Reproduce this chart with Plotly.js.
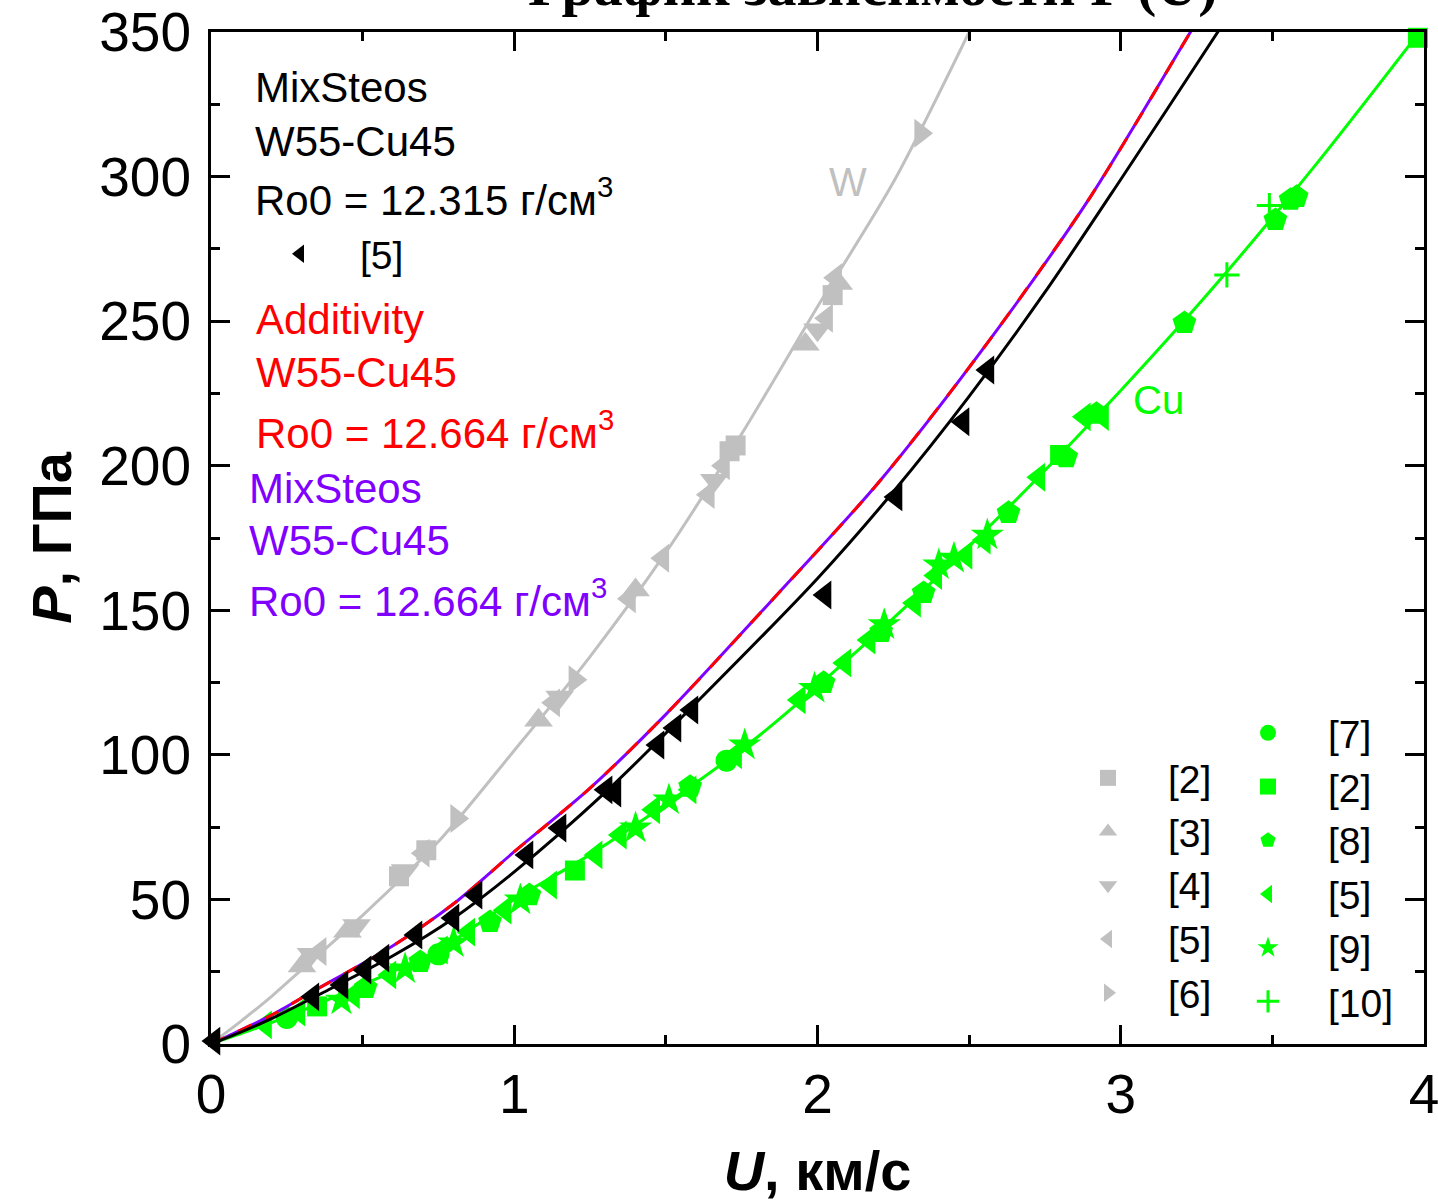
<!DOCTYPE html>
<html><head><meta charset="utf-8">
<script src="https://cdn.plot.ly/plotly-3.0.1.min.js"></script>
<style>body{margin:0;background:#fff}</style>
</head><body><div id="chart" style="width:1438px;height:1202px"></div>
<script>
// ---- Curves ----
const W_curve_U = [0, 0.1, 0.2, 0.3, 0.5, 0.75, 1.0, 1.25, 1.5, 1.75, 2.0, 2.25, 2.5];
const W_curve_P = [0, 8, 16.5, 25.8, 44.5, 70, 101.5, 134, 170, 211, 255, 298, 350];

const Cu_curve_U = [0, 0.15, 0.3, 0.5, 0.75, 1.0, 1.25, 1.5, 1.8, 2.1, 2.4, 2.7, 3.0, 3.3, 3.65, 4.0];
const Cu_curve_P = [0, 5.5, 11.5, 20.5, 32.5, 50, 65.5, 83, 106, 133, 162, 193, 226, 261, 305, 352];

const Mix12315_U = [0, 0.1, 0.2, 0.37, 0.6, 0.8, 1.0, 1.3, 1.6, 2.0, 2.25, 2.5, 2.75, 3.0, 3.32, 3.4];
const Mix12315_P = [0, 4.2, 8.8, 17.8, 30.5, 43.5, 59.5, 87, 118, 161, 191, 224, 260, 299, 350, 363];

const Add12664_U = [0, 0.1, 0.2, 0.33, 0.6, 0.8, 1.0, 1.25, 1.5, 1.85, 2.2, 2.55, 2.9, 3.23, 3.3];
const Add12664_P = [0, 4.9, 10, 17.8, 34, 48.5, 66.5, 88.5, 114, 153.5, 194, 241, 293, 350, 362];

const Mix12664_U = [0, 0.1, 0.2, 0.33, 0.6, 0.8, 1.0, 1.25, 1.5, 1.85, 2.2, 2.55, 2.9, 3.23, 3.3];
const Mix12664_P = [0, 4.9, 10, 17.8, 34, 48.5, 66.5, 88.5, 114, 153.5, 194, 241, 293, 350, 362];

// ---- Experimental points: W (gray) ----
const W2_U = [0.62, 0.71, 1.71, 1.73, 2.05];
const W2_P = [58, 67, 205, 207, 259];
const W3_U = [0.30, 0.45, 1.08, 1.40, 1.96, 2.07];
const W3_P = [27, 39, 112, 157, 242, 263];
const W4_U = [0.33, 0.48, 0.64, 1.15, 1.66, 2.00];
const W4_P = [31, 41, 60, 120, 195, 247];
const W5_U = [0.36, 0.70, 1.13, 1.38, 1.49, 1.64, 1.69, 2.03, 2.06];
const W5_P = [32, 66, 118, 154, 168, 190, 200, 251, 265];
const W6_U = [0.81, 1.20, 2.34];
const W6_P = [78, 126, 315];

// ---- Experimental points: Cu (green) ----
const Cu7_U = [0.25, 0.75, 1.70];
const Cu7_P = [9, 31, 98];
const Cu2_U = [0.35, 1.20, 2.80, 3.98];
const Cu2_P = [13, 60, 203.7, 348];
const Cu8_U = [0.51, 0.69, 0.92, 1.05, 1.58, 2.02, 2.21, 2.35, 2.63, 2.82, 2.92, 3.21, 3.51, 3.56, 3.58];
const Cu8_P = [19.4, 28.4, 42.2, 51.5, 89, 124.9, 142.5, 156, 183.7, 203, 218, 249.4, 285, 292, 293];
const Cu5_U = [0.18, 0.29, 0.47, 0.59, 0.76, 0.85, 0.97, 1.12, 1.27, 1.35, 1.46, 1.58, 1.73, 1.94, 2.09, 2.17, 2.32, 2.39, 2.49, 2.55, 2.73, 2.88, 2.94];
const Cu5_P = [6.6, 11, 17, 23.9, 32.5, 38.7, 46.3, 55, 65.4, 72.3, 81, 87.9, 100, 119, 131.8, 139.7, 152.5, 162, 169, 174.3, 196, 216.9, 217];
const Cu9_U = [0.43, 0.64, 0.80, 1.02, 1.40, 1.51, 1.76, 1.99, 2.22, 2.40, 2.45, 2.56];
const Cu9_P = [15.2, 26, 35, 49.8, 74.7, 84.4, 103.4, 123, 145, 165.7, 168, 176];
const Cu10_U = [3.35, 3.49];
const Cu10_P = [266, 290];

// ---- Experimental points: W55-Cu45 (black) ----
const Mix5_U = [0.01, 0.336, 0.432, 0.508, 0.567, 0.676, 0.798, 0.874, 1.042, 1.151, 1.303, 1.332, 1.474, 1.530, 1.586, 2.025, 2.259, 2.480, 2.562];
const Mix5_P = [1, 16.3, 20.4, 25.6, 29.7, 37.7, 43.6, 51.5, 65.4, 74.7, 87.9, 86.8, 103.4, 109.3, 115.5, 155.3, 189.2, 215.2, 233.1];

// ---- Labels ----
const legendLabelsW = ['[2]', '[3]', '[4]', '[5]', '[6]'];
const legendLabelsCu = ['[7]', '[2]', '[8]', '[5]', '[9]', '[10]'];
const mixLabel = '[5]';

const GRAY = '#c0c0c0', GREEN = '#00ff00', RED = '#ff0000', PURPLE = '#8000ff', BLACK = '#000000';
const MS = 25;

function curve(x, y, color, dash) {
  return {x: x, y: y, type: 'scatter', mode: 'lines', showlegend: false, hoverinfo: 'skip',
    line: {color: color, width: 3, shape: 'spline', smoothing: 0.8, dash: dash || 'solid'}};
}
function pts(x, y, color, symbol, name, legend, extra) {
  const m = {color: color, size: MS, symbol: symbol, line: {width: 0}};
  if (extra) Object.assign(m, extra);
  return {x: x, y: y, type: 'scatter', mode: 'markers', name: name, legend: legend,
    cliponaxis: false, marker: m};
}

const traces = [
  curve(W_curve_U, W_curve_P, GRAY),
  pts(W2_U, W2_P, GRAY, 'square', legendLabelsW[0], 'legend', {size: 20}),
  pts(W3_U, W3_P, GRAY, 'triangle-up', legendLabelsW[1], 'legend'),
  pts(W4_U, W4_P, GRAY, 'triangle-down', legendLabelsW[2], 'legend'),
  pts(W5_U, W5_P, GRAY, 'triangle-left', legendLabelsW[3], 'legend'),
  pts(W6_U, W6_P, GRAY, 'triangle-right', legendLabelsW[4], 'legend'),
  curve(Cu_curve_U, Cu_curve_P, GREEN),
  pts(Cu7_U, Cu7_P, GREEN, 'circle', legendLabelsCu[0], 'legend2', {size: 22}),
  pts(Cu2_U, Cu2_P, GREEN, 'square', legendLabelsCu[1], 'legend2', {size: 20}),
  pts(Cu8_U, Cu8_P, GREEN, 'pentagon', legendLabelsCu[2], 'legend2'),
  pts(Cu5_U, Cu5_P, GREEN, 'triangle-left', legendLabelsCu[3], 'legend2'),
  pts(Cu9_U, Cu9_P, GREEN, 'star', legendLabelsCu[4], 'legend2'),
  pts(Cu10_U, Cu10_P, GREEN, 'cross-thin-open', legendLabelsCu[5], 'legend2', {size: 18, line: {width: 3, color: GREEN}}),
  curve(Mix12664_U, Mix12664_P, PURPLE),
  curve(Add12664_U, Add12664_P, RED, '15px,15px'),
  curve(Mix12315_U, Mix12315_P, BLACK),
  pts(Mix5_U, Mix5_P, BLACK, 'triangle-left', mixLabel, 'legend3')
];

const FONT = '"Liberation Sans", Arial, sans-serif';
function txt(text, x, y, color, size) {
  return {text: text, x: x, y: y, xref: 'x', yref: 'y', xanchor: 'left', yanchor: 'middle',
    showarrow: false, font: {family: FONT, size: size || 42, color: color}};
}
const annotations = [
  txt('MixSteos', 0.14, 330.7, BLACK),
  txt('W55-Cu45', 0.14, 312.3, BLACK),
  txt('Ro0 = 12.315 г/см<sup>3</sup>', 0.14, 292.8, BLACK),
  txt('Additivity', 0.143, 250.4, RED),
  txt('W55-Cu45', 0.143, 232.1, RED),
  txt('Ro0 = 12.664 г/см<sup>3</sup>', 0.143, 212.5, RED),
  txt('MixSteos', 0.12, 192, PURPLE),
  txt('W55-Cu45', 0.12, 174, PURPLE),
  txt('Ro0 = 12.664 г/см<sup>3</sup>', 0.12, 154.3, PURPLE),
  Object.assign(txt('W', 2.1, 298.2, GRAY, 40), {xanchor: 'center'}),
  Object.assign(txt('Cu', 3.123, 222.8, GREEN, 40), {xanchor: 'center'})
];

const legendCommon = {bgcolor: 'rgba(0,0,0,0)', borderwidth: 0, font: {family: FONT, size: 39, color: BLACK},
  xanchor: 'left', yanchor: 'top', itemwidth: 110, traceorder: 'normal', itemclick: false, itemdoubleclick: false};

const axisCommon = {
  showline: true, linecolor: BLACK, linewidth: 3, mirror: 'ticks', ticks: 'inside', ticklen: 19, tickwidth: 3,
  tickcolor: BLACK, showgrid: false, zeroline: false, ticklabeloverflow: 'allow',
  tickfont: {family: FONT, size: 55, color: BLACK}
};

const layout = {
  width: 1438, height: 1202,
  margin: {l: 211, r: 14, t: 32, b: 158},
  paper_bgcolor: '#fff', plot_bgcolor: '#fff',
  title: {text: '<b>График зависимости P (U)</b>', font: {family: '"Liberation Serif", "Times New Roman", serif', size: 58, color: BLACK},
    x: 0.607, xanchor: 'center', xref: 'container', y: 0.996, yref: 'container', yanchor: 'bottom'},
  xaxis: Object.assign({}, axisCommon, {range: [0, 4], dtick: 1, tick0: 0,
    minor: {ticks: 'inside', ticklen: 9, tickwidth: 3, tickcolor: BLACK, dtick: 0.5, showgrid: false},
    title: {text: '<b><i>U</i>, км/с</b>', font: {family: FONT, size: 56, color: BLACK}, standoff: 39}}),
  yaxis: Object.assign({}, axisCommon, {range: [0, 350], dtick: 50, tick0: 0, ticklabelstandoff: 6,
    minor: {ticks: 'inside', ticklen: 9, tickwidth: 3, tickcolor: BLACK, dtick: 25, showgrid: false},
    title: {text: '<b><i>P</i>, ГПа</b>', font: {family: FONT, size: 56, color: BLACK}, standoff: 10}}),
  legend: Object.assign({}, legendCommon, {x: (1048 - 211) / 1213, y: 1 - (776 - 32 - 30) / 1012}),
  legend2: Object.assign({}, legendCommon, {x: (1208 - 211) / 1213, y: 1 - (731 - 32 - 30) / 1012}),
  legend3: Object.assign({}, legendCommon, {x: (240 - 211) / 1213, y: 1 - (252 - 32 - 30) / 1012}),
  annotations: annotations,
  showlegend: true
};

Plotly.newPlot('chart', traces, layout, {displayModeBar: false, staticPlot: true});
</script></body></html>
